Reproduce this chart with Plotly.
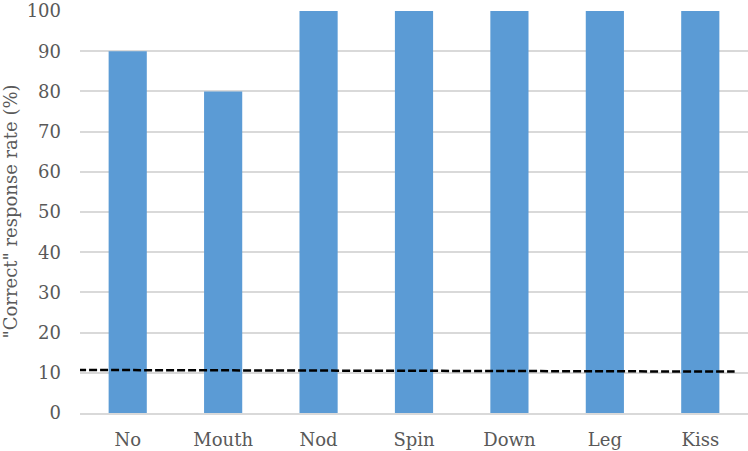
import plotly.graph_objects as go

categories = ["No", "Mouth", "Nod", "Spin", "Down", "Leg", "Kiss"]
correct_rate = [90, 80, 100, 100, 100, 100, 100]
chance_x = [-0.52, 6.36]
chance_y = [10.7, 10.3]
y_ticks = [0, 10, 20, 30, 40, 50, 60, 70, 80, 90, 100]

FONT = "DejaVu Serif"
TXT = "#595959"
FS = 18

fig = go.Figure()
fig.add_trace(go.Bar(
    x=list(range(len(categories))), y=correct_rate,
    marker=dict(color="#5B9BD5", line=dict(width=0)),
    width=0.4,
))
fig.add_trace(go.Scatter(
    x=chance_x, y=chance_y, mode="lines",
    line=dict(color="black", width=2.5, dash="8px,3px"),
    cliponaxis=False,
))

fig.update_layout(
    width=748, height=451,
    margin=dict(l=80, r=0, t=6, b=38),
    paper_bgcolor="white", plot_bgcolor="white",
    showlegend=False,
    font=dict(family=FONT, size=FS, color=TXT),
    xaxis=dict(
        tickvals=list(range(len(categories))), ticktext=categories,
        range=[-0.5, 6.5], showgrid=False, zeroline=False,
        showline=True, linecolor="#D9D9D9", linewidth=2,
        ticks="", ticklabelstandoff=9,
        tickfont=dict(family=FONT, size=FS, color=TXT),
    ),
    yaxis=dict(
        range=[0, 100.25], tickvals=y_ticks,
        showgrid=True, gridcolor="#D9D9D9", gridwidth=1.5,
        zeroline=False, showline=False, ticks="",
        ticklabelstandoff=18, ticklabeloverflow="allow",
        tickfont=dict(family=FONT, size=FS, color=TXT),
        title=dict(text='"Correct" response rate (%)',
                   font=dict(family=FONT, size=FS, color=TXT), standoff=6),
    ),
)

fig.write_html("out.html")
